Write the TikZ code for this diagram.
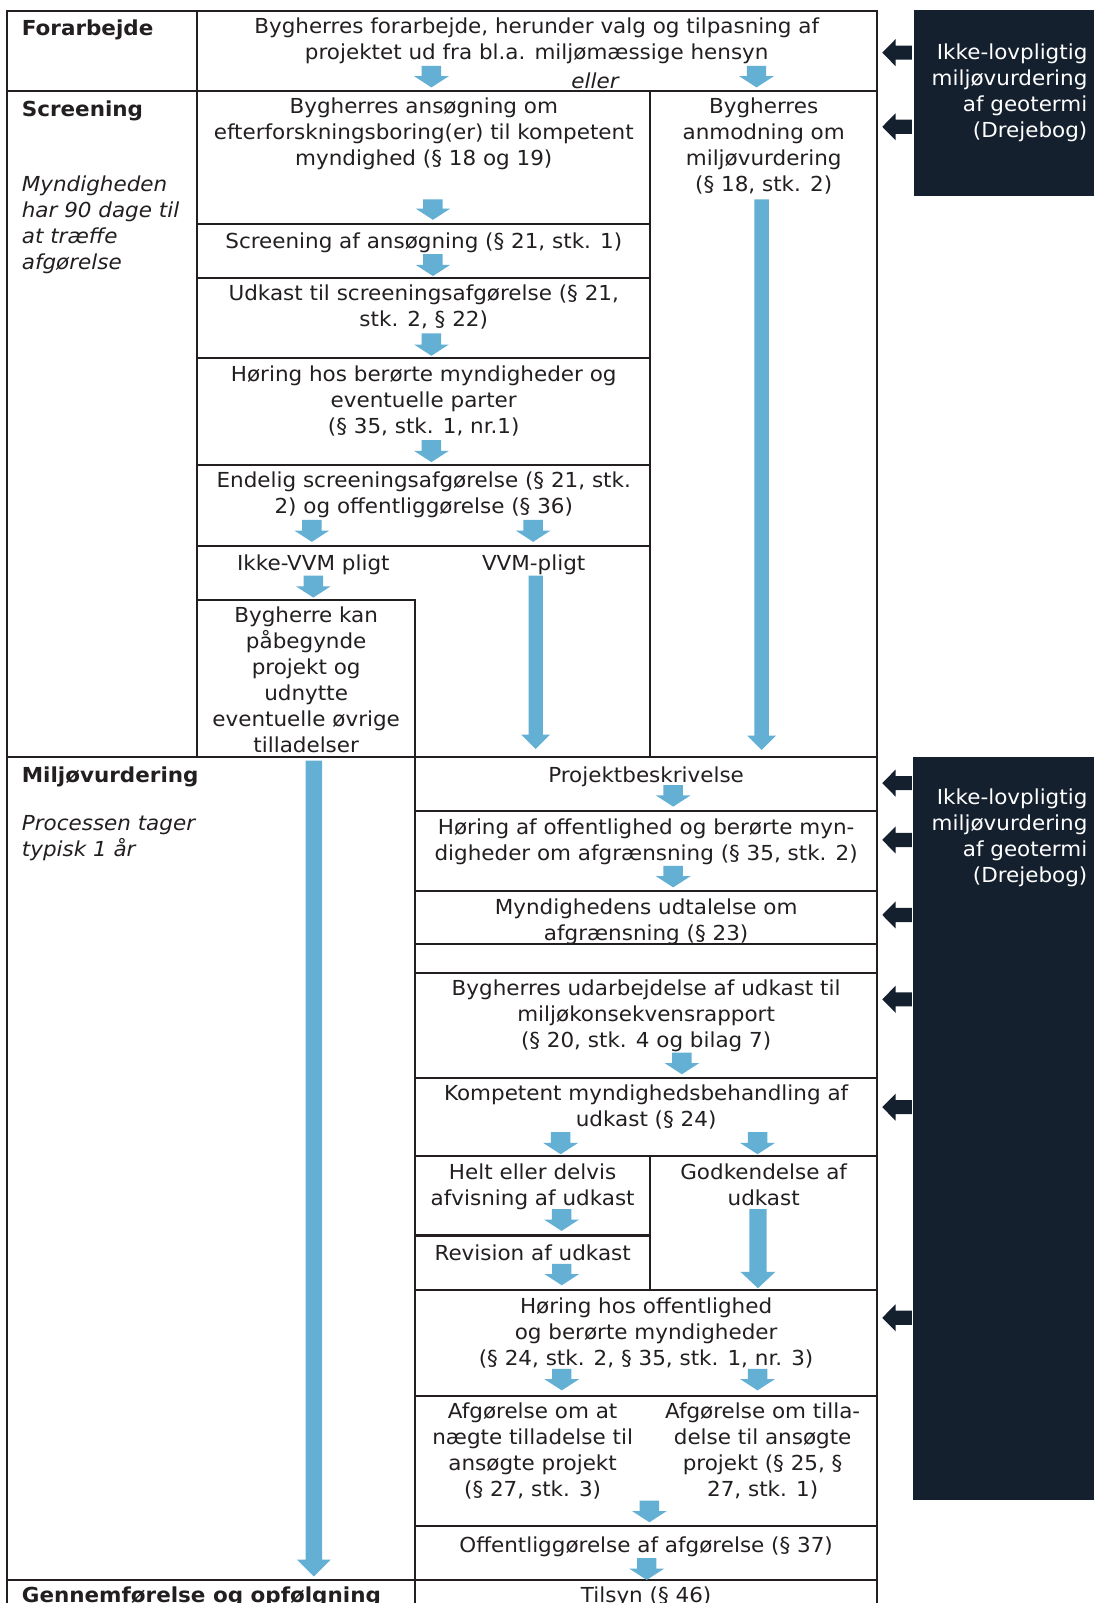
\documentclass[tikz,border=0pt]{standalone}
\usepackage{fontspec}
\setmainfont{DejaVu Sans}[FakeStretch=1.04]
\definecolor{ablue}{RGB}{99,176,212}
\definecolor{navy}{RGB}{21,32,47}
\definecolor{ink}{RGB}{35,31,32}
% small block arrow: x, ytop, ytip
\newcommand\sarr[3]{\fill[ablue] (#1-9.5,#2) -- (#1+9.5,#2) -- (#1+9.5,#3-11) -- (#1+17,#3-11) -- (#1,#3) -- (#1-17,#3-11) -- (#1-9.5,#3-11) -- cycle;}
% long block arrow: x, ytop, ytip, shaft half width, head half width, head length
\newcommand\larr[6]{\fill[ablue] (#1-#4,#2) -- (#1+#4,#2) -- (#1+#4,#3-#6) -- (#1+#5,#3-#6) -- (#1,#3) -- (#1-#5,#3-#6) -- (#1-#4,#3-#6) -- cycle;}
% dark left arrow at y
\newcommand\darr[1]{\fill[navy] (863,#1) -- (876,#1-13.2) -- (876,#1-6.9) -- (892,#1-6.9) -- (892,#1+6.9) -- (876,#1+6.9) -- (876,#1+13.2) -- cycle;}
\begin{document}
\begin{tikzpicture}[x=0.5pt,y=-0.5pt,
  tline/.style={draw=ink, line width=1pt},
  txt/.style={text=ink, font=\fontsize{10.1}{12.7}\selectfont, align=center, inner sep=0pt, anchor=north, yshift=-0.8pt, execute at begin node=\strut},
  hdr/.style={txt, font=\fontsize{10.1}{12.7}\selectfont\bfseries, anchor=north west, align=left},
  note/.style={txt, font=\fontsize{10.1}{12.7}\selectfont\itshape, anchor=north west, align=left},
  side/.style={txt, text=white, anchor=north east, align=right}]
\useasboundingbox (0,0) rectangle (1070,1568);
\clip (0,0) rectangle (1070,1568);
\fill[white] (0,0) rectangle (1070,1568);

% dark side boxes
\fill[navy] (894.5,10) rectangle (1075,191.5);
\fill[navy] (893.5,740) rectangle (1075,1467);
\node[side] (side1) at (1064,40.5) {Ikke-lovpligtig\\miljøvurdering\\af geotermi\\(Drejebog)};
\node[side] (side2) at (1064,769.5) {Ikke-lovpligtig\\miljøvurdering\\af geotermi\\(Drejebog)};
\darr{51.5}\darr{124}
\darr{766}\darr{821.6}\darr{895}\darr{977.5}\darr{1083}\darr{1289}

% table lines
\draw[tline] (7,1590) -- (7,11) -- (858,11) -- (858,1590);
\draw[tline] (7,89) -- (858,89);
\draw[tline] (7,740.5) -- (858,740.5);
\draw[tline] (7,1545.5) -- (858,1545.5);
\draw[tline] (193,11) -- (193,740.5);
\draw[tline] (636,89) -- (636,740.5);
\foreach \yy in {219,271.5,350.5,454.5,534} \draw[tline] (193,\yy) -- (636,\yy);
\draw[tline] (193,587) -- (406,587) -- (406,1590);
\foreach \yy in {793.5,872,923.5,951.5,1054.5,1131,1261.5,1365.5,1493} \draw[tline] (406,\yy) -- (858,\yy);
\draw[tline] (406,1208.5) -- (636,1208.5);
\draw[tline] (636,1131) -- (636,1261.5);

% Forarbejde
\node[hdr] (h1) at (21,15) {Forarbejde};
\node[txt] (fa) at (525,15) {Bygherres forarbejde, herunder valg og tilpasning af\\projektet ud fra bl.a. miljømæssige hensyn};
\node[txt, font=\fontsize{10.1}{12.7}\selectfont\itshape] (eller) at (582,67) {eller};
\sarr{422}{64.5}{85.5}\sarr{740}{64.5}{85.5}

% Screening
\node[hdr] (h2) at (21,94) {Screening};
\node[note] (n2) at (21,170.3) {Myndigheden\\har 90 dage til\\at træffe\\afgørelse};
\node[txt] (s1) at (414.5,94) {Bygherres ansøgning om\\efterforskningsboring(er) til kompetent\\myndighed (§ 18 og 19)};
\sarr{423.5}{195}{215}
\node[txt] (s2) at (414.5,223) {Screening af ansøgning (§ 21, stk. 1)};
\sarr{423.5}{248.5}{270}
\node[txt] (s3) at (414.5,276.8) {Udkast til screeningsafgørelse (§ 21,\\stk. 2, § 22)};
\sarr{422}{326}{348}
\node[txt] (s4) at (414.5,355.8) {Høring hos berørte myndigheder og\\eventuelle parter\\(§ 35, stk. 1, nr.1)};
\sarr{422}{430.5}{452}
\node[txt] (s5) at (414.5,459.5) {Endelig screeningsafgørelse (§ 21, stk.\\2) og offentliggørelse (§ 36)};
\sarr{305}{508.5}{530}\sarr{521.5}{508.5}{530}
\node[txt] (ikke) at (306.5,538.7) {Ikke-VVM pligt};
\node[txt] (vvm) at (522,538.7) {VVM-pligt};
\sarr{306.5}{563}{584.5}
\node[txt] (byg) at (299.5,591.5) {Bygherre kan\\påbegynde\\projekt og\\udnytte\\eventuelle øvrige\\tilladelser};
\larr{524}{563}{732.6}{7}{14}{14}
\node[txt] (anm) at (747,94) {Bygherres\\anmodning om\\miljøvurdering\\(§ 18, stk. 2)};
\larr{745}{195}{733.6}{7}{14}{14}

% Miljoevurdering
\node[hdr] (h3) at (21,745.5) {Miljøvurdering};
\node[note] (n3) at (21,796) {Processen tager\\typisk 1 år};
\larr{307}{744}{1542}{8}{16.5}{16.5}
\node[txt] (m1) at (632,745.4) {Projektbeskrivelse};
\sarr{658.5}{768}{789}
\node[txt] (m2) at (632,799.2) {Høring af offentlighed og berørte myn-\\digheder om afgrænsning (§ 35, stk. 2)};
\sarr{658.5}{847}{868}
\node[txt] (m3) at (632,876.8) {Myndighedens udtalelse om\\afgrænsning (§ 23)};
\node[txt] (m4) at (632,956.7) {Bygherres udarbejdelse af udkast til\\miljøkonsekvensrapport\\(§ 20, stk. 4 og bilag 7)};
\sarr{667}{1029.6}{1050.8}
\node[txt] (m5) at (632,1058.7) {Kompetent myndighedsbehandling af\\udkast (§ 24)};
\sarr{548.4}{1107.5}{1129}\sarr{741}{1107.5}{1129}
\node[txt] (m6) at (521,1136) {Helt eller delvis\\afvisning af udkast};
\sarr{549.3}{1182.8}{1204}
\node[txt] (m7) at (521,1213.3) {Revision af udkast};
\sarr{549.5}{1236.3}{1257.2}
\node[txt] (m8) at (747,1136) {Godkendelse af\\udkast};
\larr{741.4}{1182.8}{1260.1}{8.5}{17}{16}
\node[txt] (m9) at (632,1267.4) {Høring hos offentlighed\\og berørte myndigheder\\(§ 24, stk. 2, § 35, stk. 1, nr. 3)};
\sarr{549.5}{1339}{1360}\sarr{741}{1339}{1360}
\node[txt] (m10) at (521,1370.1) {Afgørelse om at\\nægte tilladelse til\\ansøgte projekt\\(§ 27, stk. 3)};
\node[txt] (m11) at (746,1370.1) {Afgørelse om tilla-\\delse til ansøgte\\projekt (§ 25, §\\27, stk. 1)};
\sarr{635.2}{1467.8}{1489}
\node[txt] (m12) at (632,1498.5) {Offentliggørelse af afgørelse (§ 37)};
\sarr{632.6}{1524}{1545.4}

% Gennemfoerelse
\node[hdr] (h4) at (21,1548) {Gennemførelse og opfølgning};
\node[txt] (t1) at (632,1548) {Tilsyn (§ 46)};
\end{tikzpicture}
\end{document}
